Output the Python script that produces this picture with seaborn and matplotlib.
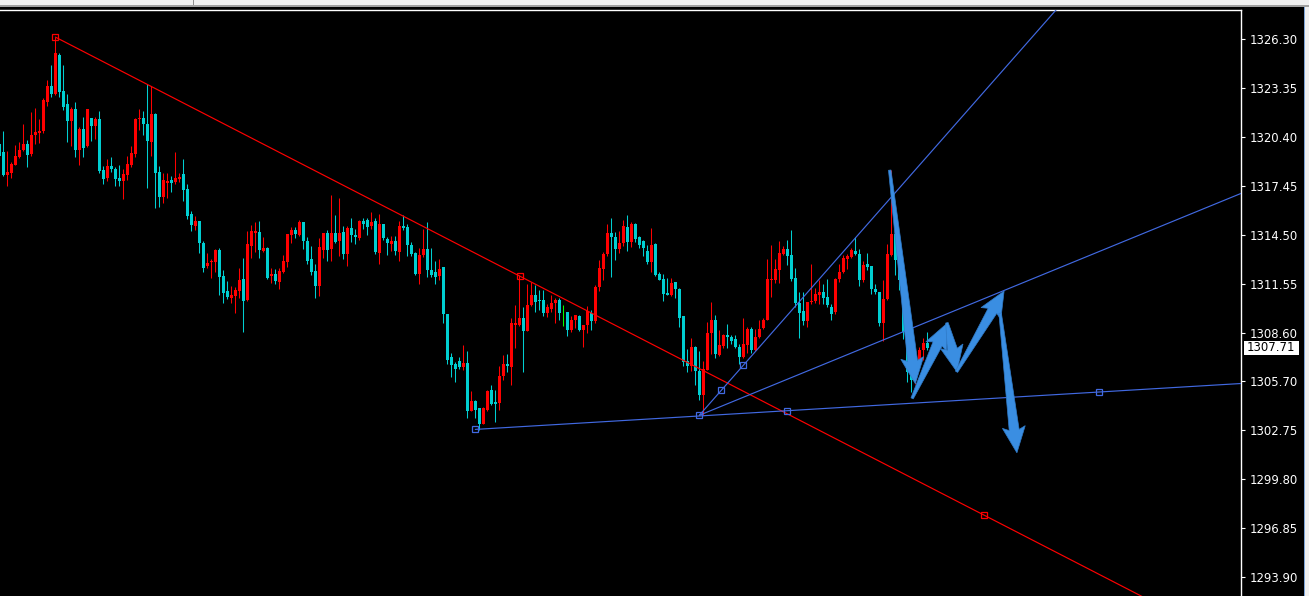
import matplotlib
matplotlib.use("Agg")
import matplotlib.pyplot as plt
import matplotlib.transforms as mtransforms
from matplotlib.patches import Rectangle, Polygon
import numpy as np
import pandas as pd
import seaborn as sns

# ---------------- data ----------------
opens = [1319.98, 1319.50, 1318.12, 1318.24, 1318.72, 1319.20, 1319.62, 1319.98, 1319.38, 1320.52,
         1320.64, 1320.76, 1322.51, 1323.47, 1322.99, 1325.34, 1323.17, 1322.39, 1321.37, 1322.09,
         1319.62, 1320.88, 1319.86, 1321.55, 1321.07, 1321.49, 1318.42, 1317.94, 1318.66, 1318.48,
         1317.94, 1317.75, 1318.12, 1318.72, 1319.38, 1321.49, 1321.55, 1321.19, 1320.10, 1321.79,
         1318.30, 1316.79, 1317.63, 1317.81, 1317.69, 1317.88, 1318.18, 1317.27, 1315.77, 1315.05,
         1315.35, 1314.02, 1312.64, 1312.88, 1312.88, 1313.60, 1312.04, 1311.13, 1310.71, 1310.83,
         1311.13, 1311.86, 1310.59, 1313.84, 1314.62, 1314.68, 1313.54, 1313.72, 1312.04, 1312.16,
         1311.68, 1312.28, 1312.88, 1314.50, 1314.80, 1314.50, 1315.29, 1314.14, 1313.06, 1312.34,
         1311.43, 1313.60, 1314.62, 1313.66, 1314.62, 1314.14, 1314.68, 1313.36, 1314.92, 1314.50,
         1314.32, 1315.35, 1315.41, 1315.05, 1315.35, 1313.42, 1315.17, 1314.26, 1313.96, 1314.14,
         1313.48, 1315.05, 1314.98, 1313.90, 1313.42, 1312.16, 1313.30, 1313.66, 1312.40, 1312.28,
         1312.04, 1312.58, 1309.75, 1307.16, 1306.74, 1306.92, 1306.56, 1306.80, 1303.91, 1304.51,
         1304.09, 1303.13, 1303.97, 1305.17, 1304.45, 1304.39, 1306.02, 1306.74, 1306.56, 1309.09,
         1309.09, 1309.51, 1308.70, 1310.29, 1310.89, 1310.59, 1310.59, 1309.81, 1310.05, 1310.41,
         1310.59, 1309.84, 1309.87, 1308.76, 1309.39, 1309.63, 1308.76, 1309.09, 1309.81, 1309.33,
         1311.37, 1312.46, 1313.36, 1314.62, 1314.38, 1313.66, 1314.02, 1314.98, 1314.08, 1315.17,
         1314.38, 1314.14, 1313.54, 1312.88, 1313.96, 1312.16, 1311.86, 1311.01, 1310.89, 1311.68,
         1311.25, 1309.63, 1306.92, 1306.62, 1307.76, 1306.32, 1304.87, 1306.38, 1308.58, 1309.39,
         1307.28, 1307.82, 1308.46, 1308.34, 1308.22, 1307.76, 1307.16, 1307.88, 1308.82, 1307.58,
         1308.34, 1308.88, 1309.39, 1311.80, 1311.80, 1312.40, 1313.36, 1313.66, 1313.30, 1311.92,
         1310.41, 1309.93, 1309.33, 1310.47, 1310.53, 1310.89, 1311.07, 1310.77, 1310.17, 1309.87,
         1311.86, 1312.28, 1313.06, 1313.18, 1313.54, 1313.36, 1311.80, 1312.76, 1312.64, 1311.25,
         1311.07, 1309.21, 1310.65, 1313.30, 1314.56, 1313.00, 1311.80, 1308.64, 1306.38, 1305.77,
         1306.80, 1307.58, 1308.00]
highs = [1320.22, 1320.76, 1319.56, 1318.90, 1319.92, 1320.10, 1321.19, 1320.22, 1321.91, 1322.15,
         1321.49, 1322.75, 1323.83, 1324.74, 1326.42, 1325.46, 1324.74, 1322.99, 1322.21, 1322.51,
         1321.00, 1321.61, 1322.09, 1321.55, 1321.61, 1321.97, 1318.66, 1319.08, 1319.20, 1318.60,
         1318.72, 1318.48, 1319.26, 1319.86, 1321.55, 1322.09, 1321.97, 1323.59, 1323.47, 1321.85,
         1318.66, 1318.24, 1318.24, 1318.05, 1319.50, 1318.24, 1319.08, 1317.57, 1315.95, 1315.65,
         1315.35, 1314.14, 1313.42, 1313.06, 1313.66, 1313.72, 1312.40, 1311.74, 1311.43, 1311.37,
         1312.52, 1313.12, 1314.74, 1315.09, 1315.29, 1315.35, 1314.38, 1313.78, 1312.52, 1312.46,
         1312.52, 1313.30, 1314.56, 1314.98, 1314.98, 1315.41, 1315.29, 1314.38, 1313.84, 1312.76,
         1314.32, 1314.62, 1314.80, 1316.91, 1315.71, 1316.73, 1315.05, 1315.05, 1315.53, 1314.86,
         1315.41, 1315.53, 1315.53, 1315.89, 1315.53, 1315.77, 1315.17, 1314.38, 1314.44, 1314.44,
         1315.35, 1315.71, 1315.17, 1314.08, 1313.48, 1313.72, 1314.86, 1315.29, 1313.72, 1312.94,
         1313.06, 1312.58, 1309.75, 1307.40, 1306.86, 1307.16, 1307.88, 1307.52, 1305.11, 1304.57,
         1304.09, 1304.15, 1305.17, 1305.47, 1305.17, 1306.62, 1307.28, 1307.34, 1309.51, 1310.29,
         1312.10, 1310.17, 1311.55, 1311.68, 1311.49, 1311.19, 1311.19, 1310.35, 1310.89, 1310.71,
         1310.71, 1310.29, 1309.87, 1309.63, 1309.69, 1309.69, 1309.09, 1310.23, 1309.99, 1311.49,
         1313.00, 1313.48, 1315.17, 1315.53, 1314.68, 1314.74, 1315.41, 1315.71, 1315.29, 1315.23,
         1314.44, 1314.20, 1313.90, 1314.92, 1314.02, 1312.28, 1312.16, 1311.92, 1311.92, 1311.68,
         1311.31, 1309.63, 1307.64, 1308.28, 1307.82, 1307.52, 1306.92, 1309.27, 1310.47, 1309.69,
         1308.76, 1308.52, 1309.15, 1308.46, 1308.46, 1307.94, 1309.51, 1308.94, 1308.97, 1308.82,
         1309.39, 1309.51, 1313.06, 1313.90, 1313.06, 1314.14, 1313.84, 1314.20, 1314.80, 1312.52,
         1311.07, 1311.07, 1310.47, 1312.76, 1311.31, 1311.80, 1311.55, 1311.86, 1310.35, 1311.92,
         1312.76, 1313.30, 1313.36, 1313.72, 1314.38, 1313.66, 1312.94, 1313.42, 1312.64, 1311.55,
         1311.07, 1311.80, 1313.96, 1318.42, 1315.05, 1313.30, 1311.92, 1308.97, 1306.68, 1307.10,
         1307.76, 1308.28, 1308.64]
lows = [1319.02, 1318.05, 1317.45, 1317.94, 1318.72, 1319.14, 1319.56, 1318.60, 1319.26, 1319.98,
        1320.04, 1320.64, 1322.27, 1322.81, 1322.93, 1322.81, 1322.03, 1320.10, 1319.86, 1319.20,
        1318.72, 1319.20, 1319.80, 1320.16, 1320.28, 1318.24, 1317.57, 1317.75, 1318.30, 1317.45,
        1317.45, 1316.67, 1317.81, 1318.60, 1319.20, 1320.82, 1320.52, 1317.33, 1319.26, 1316.13,
        1316.19, 1316.43, 1316.73, 1317.09, 1317.57, 1317.69, 1316.55, 1315.47, 1314.74, 1314.80,
        1313.42, 1312.28, 1312.52, 1311.92, 1312.28, 1310.89, 1310.41, 1310.65, 1310.41, 1309.81,
        1310.71, 1308.64, 1310.53, 1313.12, 1313.48, 1313.12, 1313.48, 1311.86, 1311.62, 1311.55,
        1311.25, 1312.22, 1312.58, 1314.02, 1314.32, 1314.44, 1313.66, 1312.76, 1312.10, 1310.71,
        1310.83, 1313.12, 1312.94, 1312.94, 1314.02, 1313.24, 1313.06, 1312.64, 1314.08, 1313.96,
        1314.20, 1314.86, 1314.50, 1314.86, 1313.36, 1312.76, 1314.20, 1313.30, 1313.54, 1313.30,
        1312.94, 1314.80, 1313.24, 1313.24, 1312.10, 1311.55, 1313.18, 1311.98, 1311.98, 1311.55,
        1311.80, 1309.21, 1306.74, 1305.96, 1305.65, 1306.44, 1306.38, 1303.49, 1303.91, 1303.49,
        1302.76, 1303.13, 1303.91, 1304.27, 1303.25, 1303.97, 1305.77, 1306.26, 1305.47, 1307.70,
        1309.03, 1306.26, 1308.70, 1310.23, 1309.87, 1309.99, 1309.63, 1309.57, 1309.87, 1309.21,
        1309.39, 1309.03, 1308.40, 1308.64, 1308.88, 1308.70, 1307.76, 1308.58, 1308.76, 1309.21,
        1311.13, 1311.80, 1313.24, 1311.98, 1313.00, 1313.42, 1313.84, 1313.54, 1313.78, 1314.08,
        1313.72, 1313.24, 1312.76, 1312.28, 1312.04, 1311.80, 1310.53, 1310.89, 1310.83, 1310.71,
        1308.97, 1306.62, 1306.26, 1306.32, 1305.47, 1304.57, 1303.67, 1306.38, 1307.34, 1307.10,
        1307.22, 1307.70, 1307.70, 1307.94, 1307.70, 1306.74, 1307.10, 1307.40, 1307.40, 1307.52,
        1308.28, 1308.82, 1309.39, 1310.77, 1311.62, 1311.62, 1313.30, 1312.70, 1311.74, 1310.17,
        1308.28, 1309.09, 1308.94, 1310.35, 1310.41, 1310.35, 1310.35, 1310.17, 1309.39, 1309.75,
        1311.68, 1312.22, 1312.46, 1313.12, 1313.30, 1311.43, 1311.68, 1312.40, 1310.95, 1310.95,
        1309.03, 1308.10, 1310.59, 1313.24, 1312.10, 1311.19, 1308.22, 1305.65, 1305.05, 1305.53,
        1306.62, 1306.98, 1307.58]
closes = [1319.26, 1318.12, 1318.30, 1318.78, 1319.26, 1319.62, 1319.98, 1319.32, 1320.52, 1320.70,
          1320.76, 1322.63, 1323.47, 1322.99, 1325.46, 1323.11, 1322.21, 1321.37, 1322.09, 1319.62,
          1320.88, 1319.74, 1322.09, 1321.07, 1321.49, 1318.36, 1317.88, 1318.66, 1318.48, 1317.88,
          1317.75, 1318.18, 1318.78, 1319.44, 1321.49, 1321.55, 1321.19, 1320.16, 1321.79, 1318.24,
          1316.79, 1317.81, 1317.75, 1317.63, 1317.94, 1318.00, 1317.21, 1315.65, 1315.09, 1315.35,
          1314.02, 1312.52, 1312.82, 1312.94, 1313.60, 1311.98, 1311.01, 1310.77, 1310.89, 1311.19,
          1311.80, 1310.53, 1313.96, 1314.74, 1314.74, 1313.60, 1313.72, 1311.92, 1312.16, 1311.74,
          1312.34, 1312.94, 1314.56, 1314.80, 1314.56, 1315.29, 1314.14, 1312.94, 1312.28, 1311.43,
          1313.78, 1314.62, 1313.60, 1314.62, 1314.08, 1314.62, 1313.36, 1314.92, 1314.50, 1314.38,
          1315.35, 1315.17, 1314.98, 1315.29, 1313.48, 1315.17, 1314.32, 1314.02, 1314.14, 1313.54,
          1315.05, 1314.92, 1313.90, 1313.36, 1312.16, 1313.30, 1313.66, 1312.40, 1312.10, 1311.98,
          1312.46, 1309.75, 1306.98, 1306.68, 1306.44, 1306.56, 1306.80, 1303.91, 1304.51, 1303.97,
          1303.13, 1304.09, 1305.11, 1304.33, 1304.33, 1306.02, 1306.74, 1306.62, 1309.21, 1309.21,
          1309.51, 1308.70, 1310.29, 1310.89, 1310.47, 1310.53, 1309.81, 1310.17, 1310.41, 1310.59,
          1309.81, 1309.84, 1308.76, 1309.39, 1309.69, 1308.76, 1309.09, 1309.93, 1309.33, 1311.37,
          1312.52, 1313.36, 1314.62, 1314.38, 1313.66, 1314.02, 1315.05, 1314.08, 1315.17, 1314.26,
          1313.90, 1313.72, 1312.88, 1313.90, 1312.10, 1311.80, 1310.95, 1310.89, 1311.62, 1311.25,
          1309.51, 1306.86, 1306.62, 1307.76, 1306.32, 1304.87, 1306.44, 1308.58, 1309.39, 1307.34,
          1307.88, 1308.46, 1308.34, 1308.10, 1307.76, 1307.16, 1307.94, 1308.82, 1307.58, 1308.34,
          1308.82, 1309.39, 1311.86, 1311.86, 1312.46, 1313.42, 1313.66, 1313.24, 1311.86, 1310.41,
          1309.81, 1309.33, 1310.47, 1310.53, 1310.95, 1311.07, 1310.71, 1310.29, 1309.75, 1311.86,
          1312.28, 1313.12, 1313.24, 1313.60, 1313.36, 1311.80, 1312.70, 1312.58, 1311.25, 1311.07,
          1309.21, 1310.65, 1313.36, 1314.56, 1313.00, 1311.80, 1308.64, 1306.26, 1305.77, 1306.86,
          1307.58, 1308.00, 1307.71]

price_ticks = [1326.30, 1323.35, 1320.40, 1317.45, 1314.50, 1311.55,
               1308.60, 1305.70, 1302.75, 1299.80, 1296.85, 1293.90]
tick_labels = ["1326.30", "1323.35", "1320.40", "1317.45", "1314.50", "1311.55",
               "1308.60", "1305.70", "1302.75", "1299.80", "1296.85", "1293.90"]
last_price = 1307.71
last_label = "1307.71"

# trend line anchors (bar index, price)
red_line_t = [14.0, 246.17]
red_line_p = [1326.42, 1297.64]
blue_low_t = [119.0, 274.9]
blue_low_p = [1302.80, 1305.05]
blue_steep_t = [175.0, 186.0]
blue_steep_p = [1303.65, 1306.66]
blue_mid_t = [175.0, 270.2]
blue_mid_p = [1303.65, 1313.04]

# hand-drawn forecast arrows (tail -> tip), bar index / price
arrow_tail_t = [222.6, 228.2, 236.9, 239.3, 250.2]
arrow_tail_p = [1318.41, 1304.67, 1309.22, 1306.27, 1309.80]
arrow_tip_t = [229.0, 237.0, 239.4, 251.2, 254.4]
arrow_tip_p = [1305.55, 1309.20, 1306.27, 1311.13, 1301.39]

# ---------------- styling ----------------
W, H = 1309, 596
BULL = "#FF0000"
BEAR = "#00CED1"
DOJI = "#00FF00"
LINE_BLUE = "#4169E1"
ARROW_BLUE = "#3A8EE2"

sns.set_theme(style="dark", rc={"axes.facecolor": "black", "figure.facecolor": "black"})
plt.rcParams["font.family"] = ["DejaVu Sans"]

fig = plt.figure(figsize=(W / 100, H / 100), dpi=100)
fig.patch.set_facecolor("black")

ax_right_px = 1241
ax_top_px = 9.5
ax = fig.add_axes([0, 0, ax_right_px / W, (H - ax_top_px) / H])
ax.set_facecolor("black")

df = pd.DataFrame({"open": opens, "high": highs, "low": lows, "close": closes})
df["idx"] = np.arange(len(df))
df["color"] = np.where(df["close"] > df["open"], BULL,
                       np.where(df["close"] < df["open"], BEAR, DOJI))

x_lo, x_hi = 0.1675, 310.42
y_lo, y_hi = 1292.77, 1328.08
ax.set_xlim(x_lo, x_hi)
ax.set_ylim(y_lo, y_hi)

# wicks
ax.vlines(df["idx"], df["low"], df["high"], colors=df["color"], linewidth=0.75, zorder=3)
# bodies
body_bottom = np.minimum(df["open"], df["close"])
body_h = np.maximum((df["close"] - df["open"]).abs(), 0.05)
ax.bar(df["idx"], body_h, bottom=body_bottom, width=0.78, color=df["color"],
       linewidth=0, zorder=4)


def ray(t, p, x_end):
    slope = (p[1] - p[0]) / (t[1] - t[0])
    return [t[0], x_end], [p[0], p[0] + slope * (x_end - t[0])]


for t, p, c in [(red_line_t, red_line_p, BULL),
                (blue_low_t, blue_low_p, LINE_BLUE),
                (blue_steep_t, blue_steep_p, LINE_BLUE),
                (blue_mid_t, blue_mid_p, LINE_BLUE)]:
    xs, ys = ray(t, p, 330)
    sns.lineplot(x=xs, y=ys, ax=ax, color=c, linewidth=0.85, zorder=5, sort=False)

# anchor squares of the selected lines (two ends + midpoint)
for t, p, c in [(red_line_t, red_line_p, BULL),
                (blue_low_t, blue_low_p, LINE_BLUE),
                (blue_steep_t, blue_steep_p, LINE_BLUE)]:
    st = [t[0], (t[0] + t[1]) / 2, t[1]]
    sp = [p[0], (p[0] + p[1]) / 2, p[1]]
    ax.plot(st, sp, linestyle="none", marker="s", markersize=3.8,
            markerfacecolor="none", markeredgecolor=c, markeredgewidth=0.9, zorder=6)

ax.set_xlim(x_lo, x_hi)
ax.set_ylim(y_lo, y_hi)


# forecast arrows: tapered shaft + triangular head, built in screen space
def arrow_polygon(tail, tip, tail_w=2.5, shaft_w=10.0, head_w=23.0, head_len=23.0):
    to_px = ax.transData.transform
    T = to_px(tail)
    P = to_px(tip)
    d = P - T
    d = d / np.hypot(*d)
    n = np.array([-d[1], d[0]])
    base = P - d * head_len
    wing_back = base - d * 3.0
    pts = [T + n * tail_w / 2, base + n * shaft_w / 2, wing_back + n * head_w / 2, P,
           wing_back - n * head_w / 2, base - n * shaft_w / 2, T - n * tail_w / 2]
    return ax.transData.inverted().transform(np.array(pts))


for tt, tp, ht, hp in zip(arrow_tail_t, arrow_tail_p, arrow_tip_t, arrow_tip_p):
    poly = arrow_polygon((tt, tp), (ht, hp))
    ax.add_patch(Polygon(poly, closed=True, facecolor=ARROW_BLUE, edgecolor="#2F7AC8",
                         linewidth=0.5, zorder=7))

ax.set_xticks([])
ax.set_xlabel("")
ax.set_ylabel("")
ax.grid(False)
ax.yaxis.tick_right()
ax.set_yticks(price_ticks)
ax.set_yticklabels(tick_labels)
ax.tick_params(axis="y", colors="white", labelcolor="white", labelsize=8.4,
               length=3, width=0.8, pad=3, direction="out", right=True, left=False)
for side in ["left", "bottom"]:
    ax.spines[side].set_visible(False)
for side in ["top", "right"]:
    ax.spines[side].set_visible(True)
    ax.spines[side].set_color("white")
    ax.spines[side].set_linewidth(1.0)

# current price box
trans = mtransforms.blended_transform_factory(ax.transAxes, ax.transData)
box_x0 = 1243.5 / ax_right_px
box_w = 55.5 / ax_right_px
half_h = 7.0 / 16.61
ax.add_patch(Rectangle((box_x0, last_price - half_h), box_w, 2 * half_h, transform=trans,
                       facecolor="white", edgecolor="none", clip_on=False, zorder=8))
ax.text(box_x0 + box_w / 2, last_price, last_label, transform=trans, ha="center", va="center",
        color="black", fontsize=8.4, clip_on=False, zorder=9)

# window chrome: top toolbar remnant and right border strip
fig.add_artist(Rectangle((0, 1 - 5 / H), 1, 5 / H, transform=fig.transFigure,
                         facecolor="#F0F0F0", edgecolor="none", zorder=0))
fig.add_artist(Rectangle((0, 1 - 7 / H), 1, 2 / H, transform=fig.transFigure,
                         facecolor="#A0A0A0", edgecolor="none", zorder=0))
fig.add_artist(Rectangle((1304 / W, 0), 5 / W, 1 - 7 / H, transform=fig.transFigure,
                         facecolor="#F0F0F0", edgecolor="none", zorder=0))
fig.add_artist(Rectangle((1303.5 / W, 0), 1.2 / W, 1 - 7 / H, transform=fig.transFigure,
                         facecolor="#7FA6D9", edgecolor="none", zorder=0))
fig.add_artist(Rectangle((193 / W, 1 - 5 / H), 1 / W, 5 / H, transform=fig.transFigure,
                         facecolor="#909090", edgecolor="none", zorder=0))

fig.savefig("out.png", dpi=100, facecolor=fig.get_facecolor())
